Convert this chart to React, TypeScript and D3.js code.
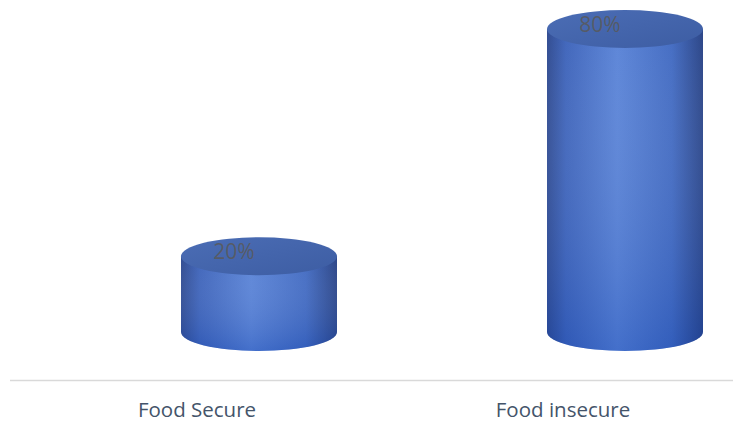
import React from "react";
import * as d3 from "d3";

const categories = ["Food Secure", "Food insecure"];
const values = [20, 80];
const valueLabels = ["20%", "80%"];

const W = 733;
const H = 423;

export default function App() {
  const x = d3.scaleBand<string>().domain(categories).range([14, 746]).padding(0);
  const y = d3.scaleLinear().domain([0, 80]).range([332, 29]);
  const depth = 62;
  const rx = 78;
  const ry = 19;

  return (
    <svg width={W} height={H} style={{ position: "absolute", left: 0, top: 0, background: "#fff" }}>
      <defs>
        <linearGradient id="body" x1="0" x2="1" y1="0" y2="0">
          <stop offset="0" stopColor="#28448c" />
          <stop offset="0.12" stopColor="#385fb8" />
          <stop offset="0.45" stopColor="#5580d6" />
          <stop offset="0.8" stopColor="#3c66c0" />
          <stop offset="1" stopColor="#223d82" />
        </linearGradient>
        <linearGradient id="bodyV" x1="0" x2="0" y1="0" y2="1">
          <stop offset="0" stopColor="#ffffff" stopOpacity="0.05" />
          <stop offset="1" stopColor="#1a48b0" stopOpacity="0.3" />
        </linearGradient>
        <linearGradient id="top" x1="0" x2="1" y1="0" y2="1">
          <stop offset="0" stopColor="#4b6db5" />
          <stop offset="1" stopColor="#3d5da3" />
        </linearGradient>
      </defs>
      <line x1={10} x2={W} y1={380.5} y2={380.5} stroke="#d9d9d9" strokeWidth={1.5} />
      {categories.map((c, i) => {
        const cx = (x(c) as number) + x.bandwidth() / 2 + depth;
        const yb = y(0);
        const yt = y(values[i]);
        const x0 = cx - rx;
        const x1 = cx + rx;
        const body = `M${x0},${yt} L${x0},${yb} A${rx},${ry} 0 0 0 ${x1},${yb} L${x1},${yt} Z`;
        return (
          <g key={c}>
            <path d={body} fill="url(#body)" />
            <path d={body} fill="url(#bodyV)" />
            <ellipse cx={cx} cy={yt} rx={rx} ry={ry} fill="url(#top)" />
            <text
              x={cx - 25}
              y={yt + 3}
              textAnchor="middle"
              fontFamily="'Open Sans', sans-serif"
              fontSize={21}
              fill="#595959"
              fillOpacity={0.85}
            >
              {valueLabels[i]}
            </text>
            <text
              x={(x(c) as number) + x.bandwidth() / 2}
              y={416.5}
              textAnchor="middle"
              fontFamily="'Open Sans', sans-serif"
              fontSize={20.5}
              fill="#44546a"
            >
              {c}
            </text>
          </g>
        );
      })}
    </svg>
  );
}
